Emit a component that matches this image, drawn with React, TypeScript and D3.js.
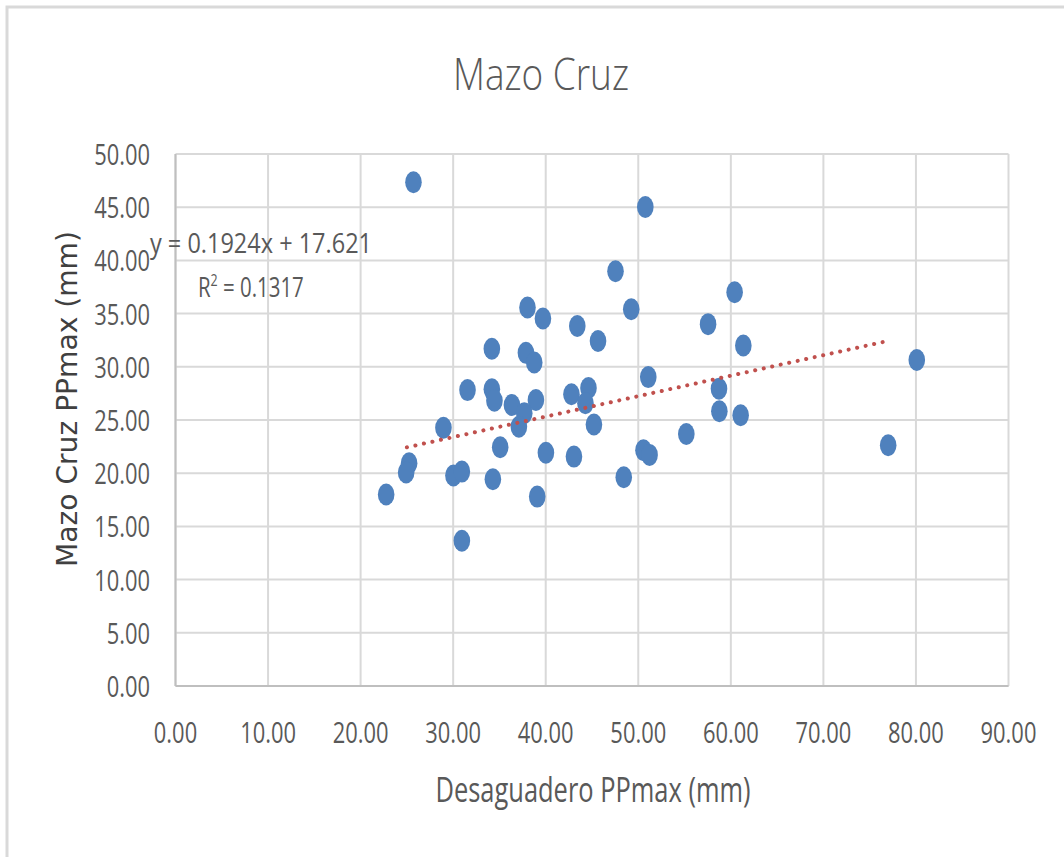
import React from "react";
import * as d3 from "d3";

const chartTitle = "Mazo Cruz";
const xTitle = "Desaguadero PPmax (mm)";
const yTitle = "Mazo Cruz PPmax (mm)";

const xTicks = [0, 10, 20, 30, 40, 50, 60, 70, 80, 90];
const yTicks = [0, 5, 10, 15, 20, 25, 30, 35, 40, 45, 50];

// Desaguadero PPmax (x)
const desaguadero = [
  25.71, 50.76, 47.54, 60.41, 38.03, 39.7, 43.41, 49.24, 45.65, 57.54,
  61.35, 34.18, 37.86, 38.76, 80.09, 51.08, 31.55, 34.18, 34.46, 36.35,
  38.94, 42.78, 44.62, 44.29, 58.72, 37.68, 37.1, 28.95, 45.21, 55.19,
  58.76, 61.06, 35.08, 40.02, 43.05, 50.56, 51.22, 77.0, 25.24, 24.92,
  30.03, 30.94, 34.29, 48.43, 22.76, 39.08, 30.94,
];
// Mazo Cruz PPmax (y)
const mazoCruz = [
  47.35, 45.01, 38.98, 37.01, 35.57, 34.54, 33.83, 35.41, 32.43, 34.01,
  32.01, 31.69, 31.31, 30.41, 30.63, 29.03, 27.81, 27.88, 26.81, 26.41,
  26.88, 27.42, 28.0, 26.57, 27.94, 25.63, 24.37, 24.28, 24.58, 23.69,
  25.82, 25.44, 22.44, 21.93, 21.56, 22.16, 21.72, 22.63, 20.94, 20.06,
  19.78, 20.15, 19.44, 19.62, 17.99, 17.8, 13.65,
];

const trendSlope = 0.1924;
const trendIntercept = 17.621;
const trendRange = [25.0, 77.0];
const equationText = "y = 0.1924x + 17.621";
const r2Value = "0.1317";

export default function App() {
  const W = 1064;
  const H = 857;
  const x = d3.scaleLinear().domain([0, 90]).range([175.5, 1008.5]);
  const y = d3.scaleLinear().domain([0, 50]).range([686, 154]);
  const fmt = d3.format(".2f");
  const textColor = "#595959";
  const font = "'Open Sans', 'Noto Sans', sans-serif";
  const sx = 0.73;

  const trendLine = d3
    .line<number>()
    .x((d) => x(d))
    .y((d) => y(trendSlope * d + trendIntercept));

  return (
    <div style={{ position: "absolute", left: 0, top: 0 }}>
      <svg width={W} height={H} style={{ display: "block", background: "#fff" }}>
        <rect x={7} y={7} width={1200} height={1000} fill="#fff" stroke="#d9d9d9" strokeWidth={3} />

        <text
          x={541}
          y={90}
          textAnchor="middle"
          fontFamily={font}
          fontWeight={300}
          fontSize={45}
          fill={textColor}
          textLength={176}
          lengthAdjust="spacingAndGlyphs"
        >
          {chartTitle}
        </text>

        {/* gridlines */}
        {yTicks.map((t) => (
          <line key={"gy" + t} x1={x(0)} x2={x(90)} y1={y(t)} y2={y(t)} stroke="#d9d9d9" strokeWidth={2} />
        ))}
        {xTicks.map((t) => (
          <line key={"gx" + t} x1={x(t)} x2={x(t)} y1={y(0)} y2={y(50)} stroke="#d9d9d9" strokeWidth={2} />
        ))}
        {/* axes */}
        <line x1={x(0)} x2={x(90)} y1={y(0)} y2={y(0)} stroke="#bfbfbf" strokeWidth={2} />
        <line x1={x(0)} x2={x(0)} y1={y(0)} y2={y(50)} stroke="#bfbfbf" strokeWidth={2} />

        {/* y tick labels */}
        {yTicks.map((t) => (
          <text
            key={"yl" + t}
            transform={`translate(150,${y(t) + 11}) scale(${sx},1)`}
            textAnchor="end"
            fontFamily={font}
            fontSize={30}
            fill={textColor}
          >
            {fmt(t)}
          </text>
        ))}
        {/* x tick labels */}
        {xTicks.map((t) => (
          <text
            key={"xl" + t}
            transform={`translate(${x(t)},743) scale(${sx},1)`}
            textAnchor="middle"
            fontFamily={font}
            fontSize={30}
            fill={textColor}
          >
            {fmt(t)}
          </text>
        ))}

        {/* points */}
        {desaguadero.map((dx, i) => (
          <ellipse key={"p" + i} cx={x(dx)} cy={y(mazoCruz[i])} rx={8.3} ry={11} fill="#4f81bd" />
        ))}

        {/* trendline */}
        <path
          d={trendLine(trendRange) || ""}
          fill="none"
          stroke="#c0504d"
          strokeWidth={4}
          strokeLinecap="round"
          strokeDasharray="0.1 8.6"
        />

        {/* equation */}
        <text
          x={150}
          y={253}
          fontFamily={font}
          fontSize={28}
          fill={textColor}
          textLength={222}
          lengthAdjust="spacingAndGlyphs"
        >
          {equationText}
        </text>
        <text
          transform={`translate(198,297) scale(${sx},1)`}
          fontFamily={font}
          fontSize={28}
          fill={textColor}
        >
          <tspan>R</tspan>
          <tspan fontSize={17} dy={-11}>2</tspan>
          <tspan dy={11}>{" = " + r2Value}</tspan>
        </text>

        {/* axis titles */}
        <text
          x={593}
          y={802}
          textAnchor="middle"
          fontFamily={font}
          fontSize={35}
          fill={textColor}
          textLength={315}
          lengthAdjust="spacingAndGlyphs"
        >
          {xTitle}
        </text>
        <text
          transform={`translate(77,399) rotate(-90)`}
          textAnchor="middle"
          fontFamily="'DejaVu Sans', sans-serif"
          fontSize={29}
          fill="#404040"
          textLength={336}
          lengthAdjust="spacingAndGlyphs"
        >
          {yTitle}
        </text>
      </svg>
    </div>
  );
}
